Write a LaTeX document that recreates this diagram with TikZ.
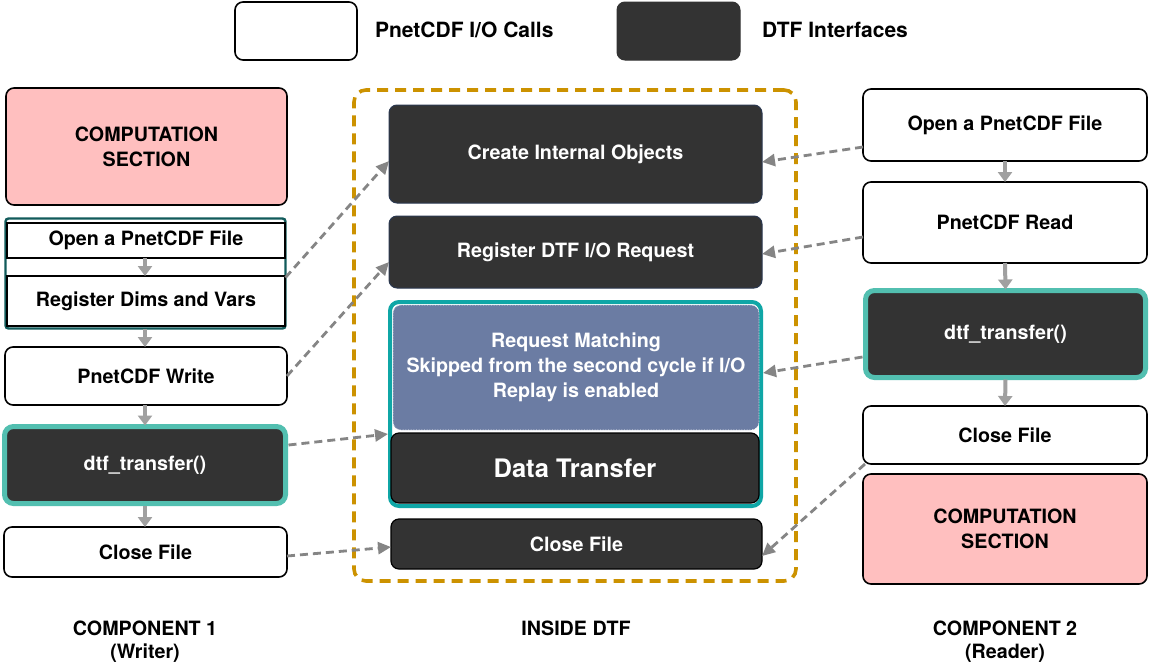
\documentclass[tikz,border=0pt]{standalone}
\usepackage{fontspec}
\setmainfont{TeX Gyre Heros}
\usetikzlibrary{arrows.meta,calc}
\definecolor{darkbox}{HTML}{333333}
\definecolor{pinkbox}{HTML}{FFBFBF}
\definecolor{tealL}{HTML}{52BFB0}
\definecolor{tealM}{HTML}{0FA6A6}
\definecolor{tealD}{HTML}{125B5B}
\definecolor{reqblue}{HTML}{6B7CA3}
\definecolor{goldline}{HTML}{CC9200}
\definecolor{navyedge}{HTML}{2B3850}
\definecolor{conn}{HTML}{858585}
\definecolor{flow}{HTML}{A0A0A0}
\tikzset{
  base/.style={inner sep=0pt, outer sep=0pt, align=center,
    font=\fontsize{19.7}{25}\selectfont\bfseries},
  iobox/.style={base, draw=black, line width=1.6pt, fill=white, rounded corners=8pt},
  sqbox/.style={base, draw=black, line width=1.4pt, fill=white},
  dtfbox/.style={base, draw=navyedge, line width=1pt, fill=darkbox, text=white, rounded corners=8pt},
  dtfblack/.style={base, draw=black, line width=1.2pt, fill=darkbox, text=white, rounded corners=8pt},
  compbox/.style={base, draw=black, line width=1.6pt, fill=pinkbox, rounded corners=8pt},
  transbox/.style={base, draw=tealL, line width=5pt, fill=darkbox, text=white, rounded corners=9pt},
  lbl/.style={base},
  conarrow/.style={draw=conn, line width=2.8pt, dash pattern=on 8pt off 5pt,
    -{Triangle[length=13pt,width=12pt]}},
  flowarrow/.style={draw=flow, line width=4pt, -{Triangle[length=10pt,width=14pt]}},
}
\begin{document}
\begin{tikzpicture}[x=1pt,y=-1pt]
\useasboundingbox[fill=white] (0,0) rectangle (1151,670);

% legend
\node[iobox, minimum width=122pt, minimum height=58pt] (legio) at (296,31) {};
\node[lbl, anchor=west, font=\fontsize{21}{25}\selectfont\bfseries] (legiot) at (375,30) {PnetCDF I/O Calls};
\node[dtfbox, draw=darkbox, minimum width=123pt, minimum height=58pt] (legdtf) at (678.5,31) {};
\node[lbl, anchor=west, font=\fontsize{21}{25}\selectfont\bfseries] (legdtft) at (762,30) {DTF Interfaces};

% ---------- left column ----------
\node[compbox, minimum width=281pt, minimum height=117pt] (comp1) at (146.5,146.5) {COMPUTATION\\SECTION};
\node[base, draw=tealD, line width=2.4pt, rounded corners=3pt, minimum width=280pt, minimum height=110pt] (grp) at (145.5,273.5) {};
\node[sqbox, minimum width=278pt, minimum height=35pt] (open1) at (146,240.5) {Open a PnetCDF File};
\node[sqbox, minimum width=278pt, minimum height=50pt] (reg1) at (146,301) {Register Dims and Vars};
\node[iobox, minimum width=282pt, minimum height=58pt] (write1) at (146,376) {PnetCDF Write};
\node[transbox, minimum width=281pt, minimum height=77pt] (dtf1) at (145,465) {dtf\_transfer()};
\node[iobox, minimum width=283pt, minimum height=50pt] (close1) at (145.5,552) {Close File};

\draw[flowarrow] (open1.south -| 145,0) -- (reg1.north -| 145,0);
\draw[flowarrow] (grp.south -| 145,0) -- (write1.north -| 145,0);
\draw[flowarrow] (write1.south -| 145,0) -- ([yshift=1pt]dtf1.north -| 145,0);
\draw[flowarrow] ([yshift=-2pt]dtf1.south -| 145,0) -- (close1.north -| 145,0);

\node[lbl] (c1a) at (145,628) {COMPONENT 1};
\node[lbl] (c1b) at (145,653) {(Writer)};

% ---------- middle ----------
\node[base, draw=goldline, line width=3.6pt, dash pattern=on 11pt off 7pt, rounded corners=12pt,
  minimum width=442pt, minimum height=491pt] (inside) at (575,335.5) {};
\node[dtfbox, minimum width=373pt, minimum height=98pt] (create) at (575.5,154) {Create Internal Objects};
\node[dtfbox, minimum width=373pt, minimum height=72pt] (regdtf) at (575.5,252) {Register DTF I/O Request};
\node[base, draw=tealM, line width=4pt, rounded corners=9pt, fill=white,
  minimum width=371pt, minimum height=204pt] (tgrp) at (575.5,404) {};
\node[base, fill=reqblue, draw=white, line width=0.6pt, densely dotted, rounded corners=8pt, text=white,
  minimum width=366pt, minimum height=125pt] (reqm) at (576,367.5)
  {Request Matching\\Skipped from the second cycle if I/O\\Replay is enabled};
\node[dtfblack, minimum width=368pt, minimum height=70pt, font=\fontsize{25.5}{30}\selectfont\bfseries] (dt) at (575,468) {Data Transfer};
\node[dtfblack, minimum width=371pt, minimum height=50pt] (closem) at (576.5,544) {Close File};
\node[lbl] (insl) at (576,628) {INSIDE DTF};

% ---------- right column ----------
\node[iobox, minimum width=284pt, minimum height=72pt] (open2) at (1005,125) {Open a PnetCDF File};
\node[iobox, minimum width=284pt, minimum height=81pt] (read2) at (1005,222.5) {PnetCDF Read};
\node[transbox, minimum width=280pt, minimum height=87pt] (dtf2) at (1005.5,334) {dtf\_transfer()};
\node[iobox, minimum width=284pt, minimum height=58pt] (close2) at (1005,435) {Close File};
\node[compbox, minimum width=284pt, minimum height=110pt] (comp2) at (1005,529) {COMPUTATION\\SECTION};

\draw[flowarrow] (open2.south) -- (read2.north);
\draw[flowarrow] (read2.south) -- ([yshift=1pt]dtf2.north);
\draw[flowarrow] ([yshift=-2pt]dtf2.south) -- (close2.north);

\node[lbl] (c2a) at (1005,628) {COMPONENT 2};
\node[lbl] (c2b) at (1005,653) {(Reader)};

% ---------- dashed connectors ----------
\draw[conarrow] ([yshift=-4pt]grp.east) -- ([yshift=-7pt]create.west);
\draw[conarrow] (write1.east) -- ([yshift=-10pt]regdtf.west);
\draw[conarrow] ([yshift=20pt,xshift=3pt]dtf1.east) -- ([xshift=-3pt,yshift=-1pt]dt.north west);
\draw[conarrow] ([yshift=-4pt]close1.east) -- ([yshift=-3pt]closem.west);
\draw[conarrow] ([yshift=-22pt]open2.west) -- ([yshift=-8pt]create.east);
\draw[conarrow] ([yshift=-14.5pt]read2.west) -- ([yshift=-2pt]regdtf.east);
\draw[conarrow] ([yshift=-23pt,xshift=-3pt]dtf2.west) -- ([yshift=-5.5pt,xshift=4pt]reqm.east);
\draw[conarrow] ([xshift=2pt]close2.south west) -- ([yshift=-12pt]closem.east);
\end{tikzpicture}
\end{document}
